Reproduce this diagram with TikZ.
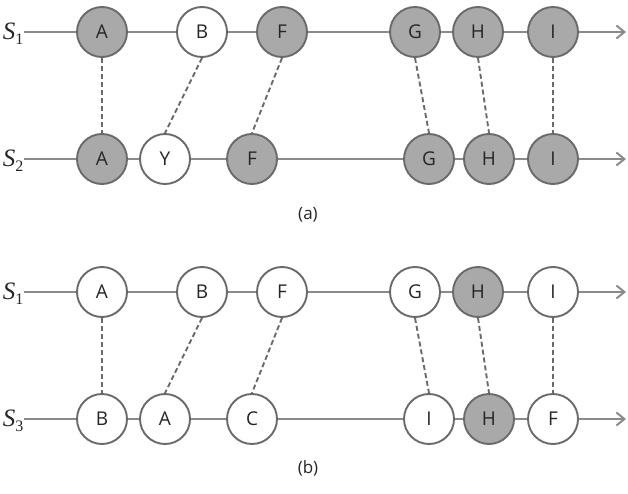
\documentclass[tikz,border=0pt]{standalone}
\usepackage{fontspec}
\setmainfont{Open Sans}
\newfontfamily\serifface{Liberation Serif}
\usetikzlibrary{arrows.meta}
\definecolor{linegray}{HTML}{8A8A8A}
\definecolor{bordergray}{HTML}{6A6A6A}
\definecolor{fillgray}{HTML}{A9A9A9}
\definecolor{textgray}{HTML}{262626}
\newcommand{\seqlabel}[1]{{\serifface\fontsize{25}{28}\selectfont\itshape S}{\serifface\fontsize{16}{18}\selectfont\raisebox{-5pt}{#1}}}
\begin{document}
\begin{tikzpicture}[x=1pt,y=-1pt,
  seqline/.style={draw=linegray,line width=2pt,-{Straight Barb[length=8pt,width=13pt,line width=2pt]}},
  elem/.style={circle,draw=bordergray,line width=1.9pt,fill=white,minimum size=50pt,inner sep=0pt,
    text=textgray,font=\fontsize{19}{22}\selectfont},
  hit/.style={elem,fill=fillgray},
  match/.style={draw=bordergray,line width=1.9pt,dash pattern=on 5pt off 3pt},
  seqname/.style={text=textgray,inner sep=0pt},
  caption/.style={text=textgray,font=\fontsize{17}{20}\selectfont,inner sep=0pt}
]
\useasboundingbox (0,0) rectangle (628,494);

% ---------- (a) ----------
\node[seqname] (la1) at (13,34) {\seqlabel{1}};
\node[seqname] (la2) at (13,161) {\seqlabel{2}};
\coordinate (sa1) at (24,32);
\coordinate (ea1) at (626,32);
\coordinate (sa2) at (24,159);
\coordinate (ea2) at (626,159);

\node[hit]  (a1A) at (102,32) {A};
\node[elem] (a1B) at (202,32) {B};
\node[hit]  (a1F) at (282,32) {F};
\node[hit]  (a1G) at (415,32) {G};
\node[hit]  (a1H) at (478,32) {H};
\node[hit]  (a1I) at (553,32) {I};

\node[hit]  (a2A) at (102,159) {A};
\node[elem] (a2Y) at (165,159) {Y};
\node[hit]  (a2F) at (252,159) {F};
\node[hit]  (a2G) at (429,159) {G};
\node[hit]  (a2H) at (489,159) {H};
\node[hit]  (a2I) at (553,159) {I};

\draw[seqline] (sa1) -- (a1A) -- (a1B) -- (a1F) -- (a1G) -- (a1H) -- (a1I) -- (ea1);
\draw[seqline] (sa2) -- (a2A) -- (a2Y) -- (a2F) -- (a2G) -- (a2H) -- (a2I) -- (ea2);

\draw[match] (a1A.south) -- (a2A.north);
\draw[match] (a1B.south) -- (a2Y.north);
\draw[match] (a1F.south) -- (a2F.north);
\draw[match] (a1G.south) -- (a2G.north);
\draw[match] (a1H.south) -- (a2H.north);
\draw[match] (a1I.south) -- (a2I.north);

\node[caption] (capa) at (308,215) {(a)};

% ---------- (b) ----------
\node[seqname] (lb1) at (13,294) {\seqlabel{1}};
\node[seqname] (lb3) at (13,421) {\seqlabel{3}};
\coordinate (sb1) at (24,292);
\coordinate (eb1) at (626,292);
\coordinate (sb3) at (24,419);
\coordinate (eb3) at (626,419);

\node[elem] (b1A) at (102,292) {A};
\node[elem] (b1B) at (202,292) {B};
\node[elem] (b1F) at (282,292) {F};
\node[elem] (b1G) at (415,292) {G};
\node[hit]  (b1H) at (478,292) {H};
\node[elem] (b1I) at (553,292) {I};

\node[elem] (b3B) at (102,419) {B};
\node[elem] (b3A) at (165,419) {A};
\node[elem] (b3C) at (252,419) {C};
\node[elem] (b3I) at (429,419) {I};
\node[hit]  (b3H) at (489,419) {H};
\node[elem] (b3F) at (553,419) {F};

\draw[seqline] (sb1) -- (b1A) -- (b1B) -- (b1F) -- (b1G) -- (b1H) -- (b1I) -- (eb1);
\draw[seqline] (sb3) -- (b3B) -- (b3A) -- (b3C) -- (b3I) -- (b3H) -- (b3F) -- (eb3);

\draw[match] (b1A.south) -- (b3B.north);
\draw[match] (b1B.south) -- (b3A.north);
\draw[match] (b1F.south) -- (b3C.north);
\draw[match] (b1G.south) -- (b3I.north);
\draw[match] (b1H.south) -- (b3H.north);
\draw[match] (b1I.south) -- (b3F.north);

\node[caption] (capb) at (308,468) {(b)};
\end{tikzpicture}
\end{document}
